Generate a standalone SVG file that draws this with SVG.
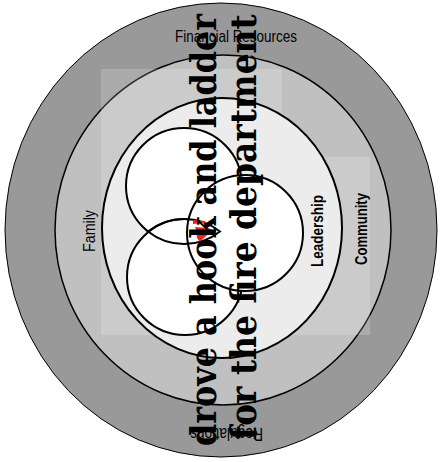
<svg xmlns="http://www.w3.org/2000/svg" width="442" height="462" viewBox="0 0 442 462">
<style>
.ring{stroke:#000;}
.venn{fill:#fff;stroke:#000;stroke-width:2;}
.overlay{fill:#fff;fill-opacity:0.18;}
.lbl{font-family:"Liberation Sans",Arial,sans-serif;fill:#000;}
.big{font-family:"DejaVu Serif","Liberation Serif",serif;font-weight:bold;font-size:35px;fill:#000;}
</style>
<rect width="442" height="462" fill="#fff"/>
<g id="ring-outer"><ellipse class="ring" cx="221" cy="230" rx="216" ry="227" fill="#999999" stroke-width="1"/></g>
<g id="ring-middle"><ellipse class="ring" cx="223" cy="230" rx="168" ry="175" fill="#c0c0c0" stroke-width="1.5"/></g>
<g id="panels">
<rect class="overlay" x="101" y="69" width="181" height="266"/>
<rect class="overlay" x="282" y="157" width="88" height="178"/>
</g>
<g id="ring-inner"><ellipse class="ring" cx="222" cy="228" rx="120" ry="130" fill="#ececec" stroke-width="2"/></g>
<g id="venn">
<circle id="circle-top" class="venn" cx="184" cy="186" r="58"/>
<circle id="circle-bottom" class="venn" cx="185" cy="277" r="58"/>
<circle id="circle-right" class="venn" cx="245" cy="233" r="58"/>
<path d="M148,231.5 A58,58 0 0 1 220,231.5 A58,58 0 0 1 148,231.5 Z" fill="none" stroke="#000" stroke-width="2"/>
</g>
<g id="center-mark">
<polygon points="195,227 208,228 213,230 205,237 200,242 197,238 196,230" fill="#e8281e"/>
<polygon points="193,220 205,221 205,223 193,224" fill="#e8281e"/>
</g>
<g id="labels">
<text class="lbl" x="175" y="42" font-size="17" textLength="122" lengthAdjust="spacingAndGlyphs">Financial Resources</text>
<text class="lbl" transform="translate(95,252) rotate(-90)" font-size="16" textLength="42" lengthAdjust="spacingAndGlyphs">Family</text>
<text class="lbl" transform="translate(323,267) rotate(-90)" font-size="16" font-weight="bold" textLength="72" lengthAdjust="spacingAndGlyphs">Leadership</text>
<text class="lbl" transform="translate(367,265) rotate(-90)" font-size="16" font-weight="bold" textLength="72" lengthAdjust="spacingAndGlyphs">Community</text>
<text class="lbl" transform="translate(263,428) rotate(180)" font-size="18" textLength="73" lengthAdjust="spacingAndGlyphs">Regulations</text>
</g>
<g id="caption">
<text class="big" transform="translate(216,446) rotate(-90) scale(0.9,1)" textLength="480" lengthAdjust="spacingAndGlyphs">drove a hook and ladder</text>
<text class="big" transform="translate(256,440) rotate(-90) scale(0.9,1)" textLength="473" lengthAdjust="spacingAndGlyphs">for the fire department</text>
</g>
</svg>
